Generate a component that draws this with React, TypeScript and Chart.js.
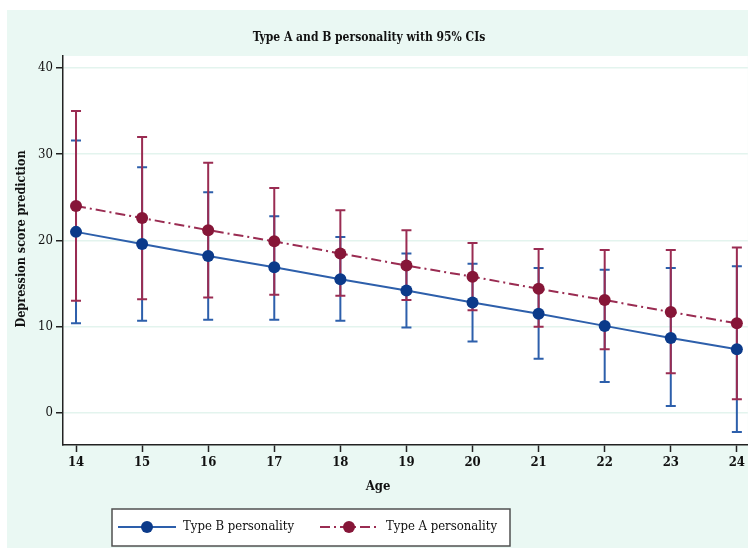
import React, { useEffect, useRef } from "react";
import { Chart, registerables } from "chart.js";

Chart.register(...registerables);

const AGES = [14, 15, 16, 17, 18, 19, 20, 21, 22, 23, 24];
const TYPE_B_MEAN = [21.0, 19.6, 18.2, 16.9, 15.5, 14.2, 12.8, 11.5, 10.1, 8.7, 7.4];
const TYPE_B_LOW = [10.4, 10.7, 10.8, 10.8, 10.7, 9.9, 8.3, 6.3, 3.6, 0.8, -2.2];
const TYPE_B_HIGH = [31.6, 28.5, 25.6, 22.8, 20.4, 18.5, 17.3, 16.8, 16.6, 16.8, 17.0];
const TYPE_A_MEAN = [24.0, 22.6, 21.2, 19.9, 18.5, 17.1, 15.8, 14.4, 13.1, 11.7, 10.4];
const TYPE_A_LOW = [13.0, 13.2, 13.4, 13.7, 13.6, 13.1, 11.9, 10.0, 7.4, 4.6, 1.6];
const TYPE_A_HIGH = [35.0, 32.0, 29.0, 26.1, 23.5, 21.2, 19.7, 19.0, 18.9, 18.9, 19.2];
const Y_TICKS = [0, 10, 20, 30, 40];
const X_TICKS = AGES;
const TITLE = "Type A and B personality with 95% CIs";
const X_TITLE = "Age";
const Y_TITLE = "Depression score prediction";
const LEGEND_B = "Type B personality";
const LEGEND_A = "Type A personality";

const MINT = "#eaf8f3";
const GRID = "#e3f4ee";
const BLUE_LINE = "#2d5fab";
const BLUE_DOT = "#0b3a8a";
const RED_LINE = "#9a2c52";
const RED_DOT = "#861638";
const FONT = "'DejaVu Serif Condensed', 'DejaVu Serif', serif";
const DASH = [10, 4, 2, 4];

export default function App() {
  const ref = useRef<HTMLCanvasElement | null>(null);

  useEffect(() => {
    const canvas = ref.current;
    if (!canvas) return;

    const bgPlugin = {
      id: "bg",
      beforeDraw(chart: any) {
        const ctx = chart.ctx;
        const a = chart.chartArea;
        ctx.save();
        ctx.fillStyle = "#ffffff";
        ctx.fillRect(0, 0, chart.width, chart.height);
        ctx.fillStyle = MINT;
        ctx.fillRect(7, 10, chart.width - 7, chart.height - 10);
        ctx.fillStyle = "#ffffff";
        ctx.fillRect(a.left, a.top, a.right - a.left, a.bottom - a.top);
        ctx.restore();
      },
    };

    const errPlugin = {
      id: "errbars",
      beforeDatasetsDraw(chart: any) {
        const ctx = chart.ctx;
        const xs = chart.scales.x;
        const ys = chart.scales.y;
        const draw = (lo: number[], hi: number[], color: string) => {
          ctx.save();
          ctx.strokeStyle = color;
          ctx.lineWidth = 2;
          AGES.forEach((age, i) => {
            const x = xs.getPixelForValue(age);
            const y1 = ys.getPixelForValue(lo[i]);
            const y2 = ys.getPixelForValue(hi[i]);
            ctx.beginPath();
            ctx.moveTo(x, y1);
            ctx.lineTo(x, y2);
            ctx.moveTo(x - 5, y1);
            ctx.lineTo(x + 5, y1);
            ctx.moveTo(x - 5, y2);
            ctx.lineTo(x + 5, y2);
            ctx.stroke();
          });
          ctx.restore();
        };
        draw(TYPE_B_LOW, TYPE_B_HIGH, BLUE_LINE);
        draw(TYPE_A_LOW, TYPE_A_HIGH, RED_LINE);
      },
    };

    const textPlugin = {
      id: "texts",
      afterDraw(chart: any) {
        const ctx = chart.ctx;
        const a = chart.chartArea;
        ctx.save();
        ctx.fillStyle = "#111";
        ctx.textAlign = "center";
        ctx.textBaseline = "middle";
        ctx.font = `bold 12px ${FONT}`;
        ctx.fillText(TITLE, 369, 38);
        ctx.font = `bold 13px ${FONT}`;
        ctx.fillText(X_TITLE, 378, 487);
        ctx.save();
        ctx.translate(22, 239);
        ctx.rotate(-Math.PI / 2);
        ctx.font = `bold 12.5px ${FONT}`;
        ctx.fillText(Y_TITLE, 0, 0);
        ctx.restore();

        // legend
        ctx.fillStyle = "#ffffff";
        ctx.fillRect(112, 509, 398, 37);
        ctx.strokeStyle = "#505050";
        ctx.lineWidth = 1.5;
        ctx.strokeRect(112, 509, 398, 37);
        const ly = 527;
        ctx.lineWidth = 2;
        ctx.strokeStyle = BLUE_LINE;
        ctx.beginPath();
        ctx.moveTo(118, ly);
        ctx.lineTo(176, ly);
        ctx.stroke();
        ctx.fillStyle = BLUE_DOT;
        ctx.beginPath();
        ctx.arc(147, ly, 6, 0, Math.PI * 2);
        ctx.fill();
        ctx.strokeStyle = RED_LINE;
        ctx.setLineDash(DASH);
        ctx.beginPath();
        ctx.moveTo(320, ly);
        ctx.lineTo(378, ly);
        ctx.stroke();
        ctx.setLineDash([]);
        ctx.fillStyle = RED_DOT;
        ctx.beginPath();
        ctx.arc(349, ly, 6, 0, Math.PI * 2);
        ctx.fill();
        ctx.fillStyle = "#111";
        ctx.textAlign = "left";
        ctx.font = `13px ${FONT}`;
        ctx.fillText(LEGEND_B, 183, ly);
        ctx.fillText(LEGEND_A, 386, ly);
        ctx.restore();
      },
    };

    const chart = new Chart(canvas, {
      type: "line",
      data: {
        datasets: [
          {
            label: LEGEND_A,
            data: AGES.map((a, i) => ({ x: a, y: TYPE_A_MEAN[i] })),
            borderColor: RED_LINE,
            borderWidth: 2,
            borderDash: DASH,
            pointRadius: 6,
            pointBorderWidth: 0,
            pointBackgroundColor: RED_DOT,
            pointBorderColor: RED_DOT,
            tension: 0,
          },
          {
            label: LEGEND_B,
            data: AGES.map((a, i) => ({ x: a, y: TYPE_B_MEAN[i] })),
            borderColor: BLUE_LINE,
            borderWidth: 2,
            pointRadius: 6,
            pointBorderWidth: 0,
            pointBackgroundColor: BLUE_DOT,
            pointBorderColor: BLUE_DOT,
            tension: 0,
          },
        ],
      },
      options: {
        animation: false,
        responsive: false,
        devicePixelRatio: 1,
        layout: { autoPadding: false, padding: { top: 56, left: 0, right: 0, bottom: 0 } },
        plugins: {
          legend: { display: false },
          title: { display: false },
          tooltip: { enabled: false },
        },
        scales: {
          x: {
            type: "linear",
            min: 13.803,
            max: 24.166,
            afterBuildTicks: (s: any) => {
              s.ticks = X_TICKS.map((v) => ({ value: v }));
            },
            afterFit: (s: any) => {
              s.height = 548 - 445;
            },
            grid: {
              drawOnChartArea: false,
              drawTicks: true,
              tickLength: 7,
              tickColor: "#222",
              tickWidth: 1.5,
            },
            border: { display: true, color: "#222", width: 1.5 },
            ticks: {
              color: "#111",
              font: { family: FONT, size: 13, weight: "bold" },
              padding: 3,
              maxRotation: 0,
              autoSkip: false,
              callback: (v: any) => String(v),
            },
          },
          y: {
            type: "linear",
            min: -3.71,
            max: 41.39,
            afterBuildTicks: (s: any) => {
              s.ticks = Y_TICKS.map((v) => ({ value: v }));
            },
            afterFit: (s: any) => {
              s.width = 63;
            },
            grid: {
              color: GRID,
              lineWidth: 1.5,
              drawTicks: true,
              tickLength: 7,
              tickColor: "#222",
              tickWidth: 1.5,
            },
            border: { display: true, color: "#222", width: 1.5 },
            ticks: {
              color: "#111",
              font: { family: FONT, size: 13 },
              padding: 3,
              callback: (v: any) => String(v),
            },
          },
        },
      },
      plugins: [bgPlugin, errPlugin, textPlugin],
    } as any);

    return () => chart.destroy();
  }, []);

  return (
    <div style={{ position: "fixed", left: 0, top: 0, width: 748, height: 548 }}>
      <canvas ref={ref} width={748} height={548} style={{ display: "block", width: 748, height: 548 }} />
    </div>
  );
}
